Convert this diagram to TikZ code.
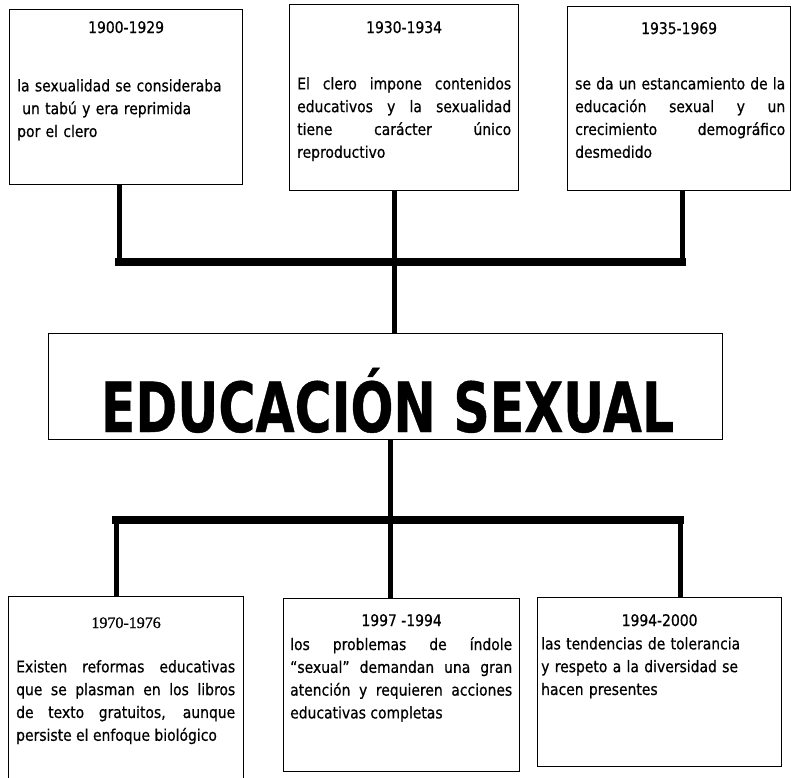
\documentclass[tikz,border=0pt]{standalone}
\usepackage{fontspec}
\usepackage{graphicx}
\setmainfont{DejaVu Sans}[FakeStretch=0.87, FakeBold=0.6]
\newfontfamily\fechaserif{Liberation Serif}[FakeBold=0.8]
\usetikzlibrary{positioning,calc}
\newcommand{\EduTexto}{\fontsize{16}{22.8}\selectfont}
\tikzset{/edu/caja/.style={
	shape=rectangle, draw=black, line width=1.2pt, inner sep=0, anchor=north west
}}
\tikzset{/edu/texto/.style={anchor=north west, inner sep=0, align=justify, font=\EduTexto,
	execute at begin node={\tolerance 9999 \hbadness 10000 }
}}
\tikzset{/edu/fecha/.style={anchor=base, inner sep=0, font=\EduTexto
}}
\tikzset{/edu/tallo/.style={draw, line width=5pt}}
\tikzset{/edu/barra/.style={draw, line width=8pt, line cap=rect}}

\begin{document}
\begin{tikzpicture}[x=1pt, y=-1pt]
			\useasboundingbox (0,0) rectangle (791,777);
			% periodos de arriba
			\path (9,9) node[/edu/caja, minimum width=233pt, minimum height=175pt] (P1) {};
			\path (P1.north) ++(0,24) node[/edu/fecha] (F1) {1900-1929};
			\path (P1.north west) ++(8,70) node[/edu/texto, text width=218pt, align=left] (D1) {la sexualidad se consideraba\\ \hspace*{5pt}un tabú y era reprimida\\ por el clero};
			\path (289,4) node[/edu/caja, minimum width=229pt, minimum height=186pt] (P2) {};
			\path (P2.north) ++(0,29) node[/edu/fecha] (F2) {1930-1934};
			\path (P2.north west) ++(8,73) node[/edu/texto, text width=214pt] (D2) {El clero impone contenidos\linebreak educativos y la sexualidad\linebreak tiene carácter único\linebreak reproductivo};
			\path (567,6) node[/edu/caja, minimum width=223pt, minimum height=184pt] (P3) {};
			\path (P3.north) ++(0,28) node[/edu/fecha] (F3) {1935-1969};
			\path (P3.north west) ++(8,71) node[/edu/texto, text width=210pt] (D3) {se da un estancamiento de la\linebreak educación sexual y un\linebreak crecimiento demográfico\linebreak desmedido};
			% tema central
			\path (48,333) node[/edu/caja, minimum width=674pt, minimum height=106pt] (Tema) {};
			\path (387.5,432) node[anchor=base, inner sep=0] (TemaTxt) {\resizebox{573pt}{!}{\scalebox{1}[1.19]{\bfseries EDUCACIÓN SEXUAL}}};
			% periodos de abajo
			\path (8,596) node[/edu/caja, minimum width=235pt, minimum height=190pt] (P4) {};
			\path (P4.north) ++(0,32) node[/edu/fecha, font=\fechaserif\EduTexto] (F4) {1970-1976};
			\path (P4.north west) ++(8,64) node[/edu/texto, text width=219pt] (D4) {Existen reformas educativas\linebreak que se plasman en los libros\linebreak de texto gratuitos, aunque\linebreak persiste el enfoque biológico};
			\path (283,598) node[/edu/caja, minimum width=236pt, minimum height=173pt] (P5) {};
			\path (P5.north) ++(0,28) node[/edu/fecha] (F5) {1997 -1994};
			\path (P5.north west) ++(7,39) node[/edu/texto, text width=222pt] (D5) {los problemas de índole\linebreak “sexual” demandan una gran\linebreak atención y requieren acciones\linebreak educativas completas};
			\path (537,597) node[/edu/caja, minimum width=244pt, minimum height=169pt] (P6) {};
			\path (P6.north) ++(0,29) node[/edu/fecha] (F6) {1994-2000};
			\path (P6.north west) ++(4,40) node[/edu/texto, text width=230pt, align=left] (D6) {las tendencias de tolerancia\\ y respeto a la diversidad se\\ hacen presentes};
			% conectores
			\coordinate (T1) at (119,262);
			\coordinate (T2) at (394,262);
			\coordinate (T3) at (682,262);
			\coordinate (B1) at (116,520);
			\coordinate (B2) at (390,520);
			\coordinate (B3) at (680,520);
			\path[/edu/tallo] (T1 |- P1.south) -- (T1);
			\path[/edu/tallo] (T2 |- P2.south) -- (T2 |- Tema.north);
			\path[/edu/tallo] (T3 |- P3.south) -- (T3);
			\path[/edu/barra] (T1) -- (T3);
			\path[/edu/tallo] (B2 |- Tema.south) -- (B2 |- P5.north);
			\path[/edu/tallo] (B1) -- (B1 |- P4.north);
			\path[/edu/tallo] (B3) -- (B3 |- P6.north);
			\path[/edu/barra] (B1) -- (B3);
		\end{tikzpicture}
\end{document}
